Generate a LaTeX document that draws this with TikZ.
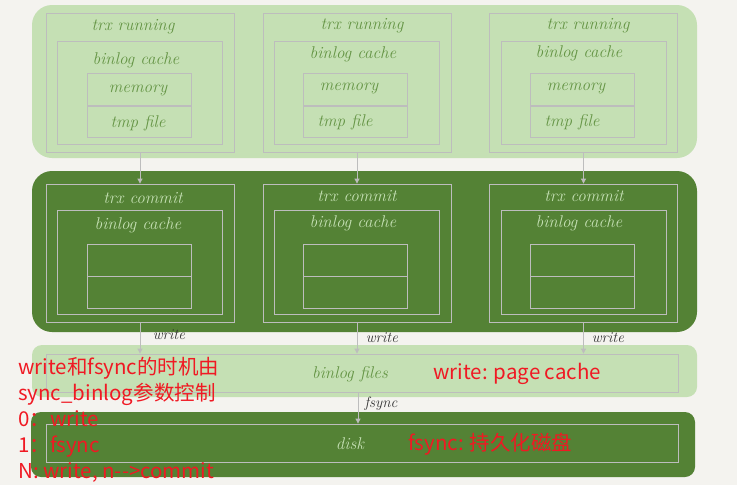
\documentclass[tikz,border=0pt]{standalone}
\usepackage{fontspec}
\usetikzlibrary{arrows.meta}
\newfontfamily\cjk{Noto Sans CJK SC}
\definecolor{bg}{HTML}{F4F3EF}
\definecolor{lgreen}{HTML}{C5E0B4}
\definecolor{dgreen}{HTML}{548235}
\definecolor{ltext}{HTML}{649444}
\definecolor{dtext}{HTML}{C5E0B4}
\definecolor{boxline}{HTML}{BDBDBD}
\definecolor{redtxt}{HTML}{F01923}
\definecolor{labtxt}{HTML}{333333}
\begin{document}
\begin{tikzpicture}[x=1pt,y=-1pt,
  lband/.style={fill=lgreen, draw=none, rounded corners=#1, inner sep=0pt},
  dband/.style={fill=dgreen, draw=none, rounded corners=#1, inner sep=0pt},
  gbox/.style={draw=boxline, line width=0.8pt, inner sep=0pt},
  ltxt/.style={text=ltext, font=\itshape\fontsize{17}{20}\selectfont, inner sep=0pt},
  dtxt/.style={text=dtext, font=\itshape\fontsize{17}{20}\selectfont, inner sep=0pt},
  ktxt/.style={text=labtxt, font=\itshape\fontsize{15}{17}\selectfont, inner sep=0pt},
  rtxt/.style={text=redtxt, font=\cjk\fontsize{20.5}{24}\selectfont, inner sep=0pt, anchor=base west},
  arr/.style={draw=boxline, line width=0.8pt, -{Triangle[width=5pt,length=5pt]}}
]
\useasboundingbox (0,0) rectangle (737,485);
\fill[bg] (0,0) rectangle (737,485);

% bands
\node[lband=20pt, minimum width=665pt, minimum height=153pt] (top) at (364.5,81.5) {};
\node[dband=20pt, minimum width=665pt, minimum height=161pt] (mid) at (364.5,251.5) {};
\node[lband=10pt, minimum width=665pt, minimum height=52pt] (fband) at (364.5,371) {};
\node[dband=10pt, minimum width=664pt, minimum height=65pt] (dband) at (363,444.5) {};

% boxes
\foreach \i/\xo/\xi/\xs in {1/140/139.5/139, 2/357/356.5/355.5, 3/583.5/583.5/582}{
  \node[gbox, minimum width=188pt, minimum height=139pt] (r\i) at (\xo,82.5) {};
  \node[gbox, minimum width=165pt, minimum height=103pt] (rb\i) at (\xi,92.5) {};
  \node[gbox, minimum width=104pt, minimum height=33pt] (rm\i) at (\xs,89.5) {};
  \node[gbox, minimum width=104pt, minimum height=32pt] (rt\i) at (\xs,121.5) {};
  \node[gbox, minimum width=188pt, minimum height=138pt] (c\i) at (\xo,253) {};
  \node[gbox, minimum width=165pt, minimum height=104pt] (cb\i) at (\xi,262) {};
  \node[gbox, minimum width=104pt, minimum height=32pt] (cm\i) at (\xs,260) {};
  \node[gbox, minimum width=104pt, minimum height=32pt] (ct\i) at (\xs,292) {};
}

% top row texts
\node[ltxt] (t1) at (133,27) {trx running};
\node[ltxt] (t2) at (362,26) {trx running};
\node[ltxt] (t3) at (588,26) {trx running};
\node[ltxt] (b1) at (136,60) {binlog cache};
\node[ltxt] (b2) at (353,54) {binlog cache};
\node[ltxt] (b3) at (579,53) {binlog cache};
\node[ltxt] (m1) at (138,90) {memory};
\node[ltxt] (m2) at (349,88) {memory};
\node[ltxt] (m3) at (576,88) {memory};
\node[ltxt] (f1) at (138,123) {tmp file};
\node[ltxt] (f2) at (345,122) {tmp file};
\node[ltxt] (f3) at (572,122) {tmp file};

% middle row texts
\node[dtxt] (k1) at (143,198) {trx commit};
\node[dtxt] (k2) at (357,196) {trx commit};
\node[dtxt] (k3) at (584,196) {trx commit};
\node[dtxt] (kb1) at (138,225) {binlog cache};
\node[dtxt] (kb2) at (353,223) {binlog cache};
\node[dtxt] (kb3) at (579,223) {binlog cache};

% files and disk
\node[gbox, minimum width=632pt, minimum height=38pt] (files) at (362,373) {};
\node[gbox, minimum width=632pt, minimum height=38pt] (disk) at (362,443) {};
\node[ltxt] (filestxt) at (350,374) {binlog files};
\node[dtxt] (disktxt) at (350,444) {disk};

% connectors
\foreach \i in {1,2,3}{
  \draw[arr] (r\i.south) -- (c\i.north);
  \draw[arr] (c\i.south) -- (c\i.south |- files.north);
}
\draw[arr] ([xshift=-4pt]files.south) -- ([xshift=-4pt]disk.north);

\node[ktxt] (w1) at (169,335) {write};
\node[ktxt] (w2) at (382,338) {write};
\node[ktxt] (w3) at (608,338) {write};
\node[ktxt] (fs) at (381,404) {fsync};

% red notes
\node[rtxt] (n1) at (18,374) {write和fsync的时机由};
\node[rtxt] (n2) at (18,400) {sync\_binlog参数控制};
\node[rtxt] (n3) at (18,426) {0：write};
\node[rtxt] (n4) at (18,452) {1：fsync};
\node[rtxt] (n5) at (18,478) {N: write, n-{}-{}>commit};
\node[rtxt] (p1) at (433,379) {write: page cache};
\node[rtxt] (p2) at (408,450) {fsync: 持久化磁盘};
\end{tikzpicture}
\end{document}
